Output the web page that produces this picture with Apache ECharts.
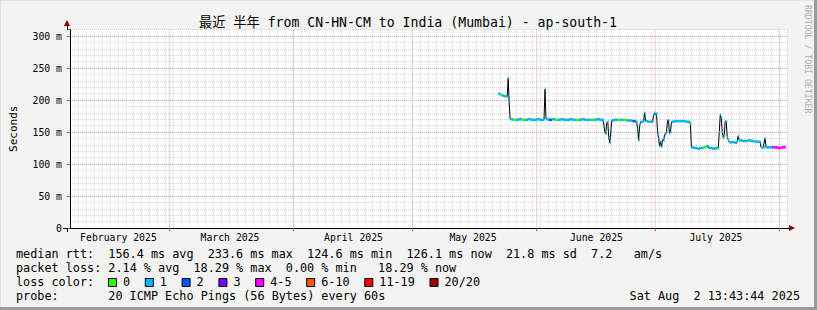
<!DOCTYPE html>
<html><head><meta charset="utf-8">
<script src="https://cdn.jsdelivr.net/npm/echarts@6/dist/echarts.min.js"></script>
<style>html,body{margin:0;padding:0;background:#f3f3f3}#c{width:817px;height:310px}</style>
</head><body><div id="c"></div>
<script>
// ---------- data ----------
const titleText = '最近 半年 from CN-HN-CM to India (Mumbai) - ap-south-1';
const yAxisName = 'Seconds';
const xStart = '2025-02-04 00:00';
const xEnd = '2025-08-03 00:00';
const monthStarts = ['2025-02-01 00:00','2025-03-01 00:00','2025-04-01 00:00','2025-05-01 00:00','2025-06-01 00:00','2025-07-01 00:00','2025-08-01 00:00'];
const monthLabelTimes = ['2025-02-16 04:00','2025-03-16 04:00','2025-04-16 04:00','2025-05-16 04:00','2025-06-16 04:00','2025-07-16 04:00'];
const monthLabels = ['February 2025','March 2025','April 2025','May 2025','June 2025','July 2025'];
const yMax = 310;
const yMajor = 50;
const yMinor = 10;

const times = [
'2025-05-22 12:00','2025-05-23 00:00','2025-05-23 12:00','2025-05-24 00:00','2025-05-24 12:00','2025-05-24 18:00',
'2025-05-25 00:00','2025-05-25 06:00','2025-05-25 12:00','2025-05-26 06:00','2025-05-27 00:00','2025-05-27 18:00',
'2025-05-28 12:00','2025-05-29 06:00','2025-05-30 00:00','2025-05-30 18:00','2025-05-31 12:00','2025-06-01 06:00',
'2025-06-02 00:00','2025-06-02 18:00','2025-06-03 00:00','2025-06-03 06:00','2025-06-03 12:00','2025-06-04 06:00',
'2025-06-05 00:00','2025-06-05 18:00','2025-06-06 12:00','2025-06-07 06:00','2025-06-08 00:00','2025-06-08 18:00',
'2025-06-09 12:00','2025-06-10 06:00','2025-06-11 00:00','2025-06-11 18:00','2025-06-12 12:00','2025-06-13 06:00',
'2025-06-14 00:00','2025-06-14 18:00','2025-06-15 12:00','2025-06-16 06:00','2025-06-17 00:00','2025-06-17 18:00',
'2025-06-18 00:00','2025-06-18 06:00','2025-06-18 12:00','2025-06-18 18:00','2025-06-19 00:00','2025-06-19 06:00',
'2025-06-19 12:00','2025-06-19 18:00','2025-06-20 00:00','2025-06-20 18:00','2025-06-21 12:00','2025-06-22 06:00',
'2025-06-23 00:00','2025-06-23 18:00','2025-06-24 12:00','2025-06-25 06:00','2025-06-26 00:00','2025-06-26 06:00',
'2025-06-26 12:00','2025-06-26 18:00','2025-06-27 00:00','2025-06-27 06:00','2025-06-27 18:00','2025-06-28 00:00',
'2025-06-28 06:00','2025-06-28 12:00','2025-06-29 06:00','2025-06-30 00:00','2025-06-30 06:00','2025-06-30 12:00',
'2025-06-30 18:00','2025-07-01 00:00','2025-07-01 06:00','2025-07-01 12:00','2025-07-01 18:00','2025-07-02 00:00',
'2025-07-02 06:00','2025-07-02 12:00','2025-07-02 18:00','2025-07-03 00:00','2025-07-03 06:00','2025-07-03 12:00',
'2025-07-03 18:00','2025-07-04 00:00','2025-07-04 06:00','2025-07-04 12:00','2025-07-04 18:00','2025-07-05 00:00',
'2025-07-05 18:00','2025-07-06 12:00','2025-07-07 06:00','2025-07-08 00:00','2025-07-08 18:00','2025-07-09 12:00',
'2025-07-09 18:00','2025-07-10 00:00','2025-07-10 18:00','2025-07-11 12:00','2025-07-12 06:00','2025-07-13 00:00',
'2025-07-13 18:00','2025-07-14 12:00','2025-07-15 06:00','2025-07-16 00:00','2025-07-16 18:00','2025-07-17 00:00',
'2025-07-17 06:00','2025-07-17 12:00','2025-07-17 18:00','2025-07-18 00:00','2025-07-18 06:00','2025-07-18 12:00',
'2025-07-18 18:00','2025-07-19 00:00','2025-07-19 06:00','2025-07-19 12:00','2025-07-20 06:00','2025-07-21 00:00',
'2025-07-21 12:00','2025-07-21 18:00','2025-07-22 00:00','2025-07-22 18:00','2025-07-23 12:00','2025-07-24 06:00',
'2025-07-25 00:00','2025-07-25 18:00','2025-07-26 12:00','2025-07-27 06:00','2025-07-27 12:00','2025-07-28 00:00',
'2025-07-28 12:00','2025-07-28 18:00','2025-07-29 12:00','2025-07-30 06:00','2025-07-31 00:00','2025-07-31 18:00',
'2025-08-01 12:00','2025-08-02 06:00','2025-08-02 12:00'
];
const medianMs = [
210,208,207,206,206,205,
234,197,170,169,169,170,
169,169,170,169,169,170,
169,169,170,217,170,169,
170,169,169,170,169,169,
170,169,169,169,170,169,
169,169,169,170,169,169,
162,150,147,165,166,142,
133,150,168,169,169,169,
169,168,168,167,166,166,
155,137,160,166,166,167,
180,167,166,166,166,176,
180,177,179,150,140,128,
135,127,138,136,145,148,
150,168,168,148,150,166,
167,167,167,167,166,166,
162,126,125,124,125,126,
128,125,124,125,125,150,
177,172,150,141,145,167,
166,142,138,134,134,133,
135,144,137,136,136,137,
136,135,135,134,126,126,
140,126,126,126,126,125,
126,126,126
];
const lossIdx = [
1,0,1,1,1,1,
1,1,1,0,1,1,
0,1,1,1,1,1,
1,1,1,1,1,2,
1,0,1,1,1,1,
1,1,0,1,1,1,
1,0,1,1,1,1,
1,1,1,1,1,1,
1,1,1,1,0,1,
0,1,1,2,1,1,
1,1,1,1,1,1,
1,1,1,1,1,1,
1,1,1,1,1,1,
1,1,1,1,2,1,
1,2,1,1,1,1,
1,1,1,1,1,1,
0,1,1,1,1,0,
1,1,1,1,0,1,
1,1,1,1,1,1,
1,1,0,1,1,1,
1,1,1,1,1,1,
1,1,1,1,1,1,
1,1,1,4,4,4,
4,4,4
];
const lossLabels = ['0','1','2','3','4-5','6-10','11-19','20/20'];
const lossColors = ['#26ff00','#00b8ff','#0059ff','#7e00ff','#ff00ff','#ff5500','#ff0000','#a10000'];

const statRow1 = 'median rtt:  156.4 ms avg  233.6 ms max  124.6 ms min  126.1 ms now  21.8 ms sd  7.2   am/s';
const statRow2 = 'packet loss: 2.14 % avg  18.29 % max  0.00 % min   18.29 % now';
const lossRowLabel = 'loss color:';
const probeRow = 'probe:       20 ICMP Echo Pings (56 Bytes) every 60s';
const stampText = 'Sat Aug  2 13:43:44 2025';
const watermark = 'RRDTOOL / TOBI OETIKER';

// ---------- helpers ----------
function ts(s){const [d,t='00:00']=s.split(' ');const [Y,M,D]=d.split('-').map(Number);const [h,m]=t.split(':').map(Number);return Date.UTC(Y,M-1,D,h,m);}
const tVals = times.map(ts);
const labelTs = monthLabelTimes.map(ts);
const MONO = "'DejaVu Sans Mono', monospace";
const CH = 7.1; // monospace column pitch of legend
const LX = 16;

function rowTexts(str, y){
  const out=[]; const re=/\S+(?: \S+)*/g; let m;
  while((m=re.exec(str))){ out.push({type:'text', x: LX + m.index*CH, y: y,
    style:{text:m[0], font:"11.8px "+MONO, fill:'#000', textVerticalAlign:'middle', textAlign:'left'}, silent:true}); }
  return out;
}

const graphics = [];
// frame
graphics.push({type:'rect', shape:{x:0,y:0,width:817,height:310}, style:{fill:'none', stroke:'#cfcfcf', lineWidth:1}, silent:true, z:-10});
graphics.push({type:'line', shape:{x1:815.5,y1:0,x2:815.5,y2:310}, style:{stroke:'#9a9a9a', lineWidth:3}, silent:true});
graphics.push({type:'line', shape:{x1:0,y1:308.5,x2:817,y2:308.5}, style:{stroke:'#9a9a9a', lineWidth:3}, silent:true});
// axis arrows
graphics.push({type:'polygon', shape:{points:[[64,26],[70,26],[67,20]]}, style:{fill:'#8b0000'}, silent:true, z:10});
graphics.push({type:'polygon', shape:{points:[[789,225],[789,231],[795,228]]}, style:{fill:'#8b0000'}, silent:true, z:10});
graphics.push({type:'line', shape:{x1:787,y1:228.5,x2:790,y2:228.5}, style:{stroke:'#000', lineWidth:1}, silent:true, z:10});
graphics.push({type:'line', shape:{x1:63,y1:228.5,x2:67,y2:228.5}, style:{stroke:'#000', lineWidth:1}, silent:true, z:10});
graphics.push({type:'line', shape:{x1:67.5,y1:228,x2:67.5,y2:232}, style:{stroke:'#000', lineWidth:1}, silent:true, z:10});
graphics.push({type:'line', shape:{x1:67.5,y1:26,x2:67.5,y2:30}, style:{stroke:'#000', lineWidth:1}, silent:true, z:10});
// title
graphics.push({type:'text', x:408, y:22, style:{text:titleText, font:"13.2px 'DejaVu Sans Mono','Noto Sans CJK SC',monospace", fill:'#000', textAlign:'center', textVerticalAlign:'middle'}, silent:true});
// watermark
graphics.push({type:'text', x:808, y:5, rotation:-Math.PI/2, style:{text:watermark, font:"8.2px "+MONO, fill:'#b0b0b0', textAlign:'left', textVerticalAlign:'middle'}, silent:true});
// stats rows
rowTexts(statRow1, 254).forEach(g=>graphics.push(g));
rowTexts(statRow2, 268).forEach(g=>graphics.push(g));
rowTexts(lossRowLabel, 282).forEach(g=>graphics.push(g));
rowTexts(probeRow, 296).forEach(g=>graphics.push(g));
graphics.push({type:'text', x:800, y:296, style:{text:stampText, font:"11.8px "+MONO, fill:'#000', textAlign:'right', textVerticalAlign:'middle'}, silent:true});
// loss colour legend
let lx = 123;
lossLabels.forEach((lab,i)=>{
  graphics.push({type:'rect', shape:{x:lx-15+0.5, y:278.5, width:8, height:8}, style:{fill:lossColors[i], stroke:'#000', lineWidth:1}, silent:true});
  graphics.push({type:'text', x:lx, y:282, style:{text:lab, font:"11.8px "+MONO, fill:'#000', textAlign:'left', textVerticalAlign:'middle'}, silent:true});
  lx += lab.length*CH + 29.7;
});

const chart = echarts.init(document.getElementById('c'), null, {renderer:'svg', width:817, height:310});
const xMin = ts(xStart), xMax = ts(xEnd);
const RED = '#eaa6a6', GRAY = '#d6d6d6';
chart.setOption({
  backgroundColor:'#f3f3f3',
  animation:false,
  grid:{left:67, right:30, top:29.6, bottom:82, show:true, backgroundColor:'#ffffff', borderWidth:0, z:0},
  xAxis:[
    {type:'value', min:xMin, max:xMax, position:'bottom', z:2,
     axisLine:{show:true, lineStyle:{color:'#000', width:1}},
     axisTick:{show:true, customValues: monthStarts.map(ts), length:3, lineStyle:{color:'#d04040'}},
     axisLabel:{show:true, customValues: labelTs, margin:4, color:'#000', fontFamily:MONO, fontSize:9.8,
       formatter:(v)=>{const i=labelTs.indexOf(v); return i>=0?monthLabels[i]:'';}},
     splitLine:{show:true, lineStyle:{color:RED, type:[1,1], width:1}}},
    {type:'value', min:xMin, max:xMax, position:'top', z:1, interval:2*86400000,
     axisLine:{show:false}, axisTick:{show:false}, axisLabel:{show:false},
     splitLine:{show:true, lineStyle:{color:GRAY, type:[1,1], width:1}}}
  ],
  yAxis:[
    {type:'value', min:0, max:yMax, interval:yMajor, position:'left', z:2,
     name:yAxisName, nameLocation:'middle', nameGap:51, nameRotate:90,
     nameTextStyle:{fontFamily:MONO, fontSize:11, color:'#000'},
     axisLine:{show:true, lineStyle:{color:'#000', width:1}},
     axisTick:{show:true, length:3, lineStyle:{color:'#d04040'}},
     axisLabel:{margin:8, color:'#000', fontFamily:MONO, fontSize:9.8,
       formatter:(v)=> v % yMajor ? '' : (v===0 ? '0' : v + ' m')},
     splitLine:{show:true, showMaxLine:false, lineStyle:{color:RED, type:[1,1], width:1}}},
    {type:'value', min:0, max:yMax, interval:yMinor, position:'right', z:1,
     axisLine:{show:false}, axisTick:{show:false}, axisLabel:{show:false},
     splitLine:{show:true, lineStyle:{color:GRAY, type:[1,1], width:1}}}
  ],
  graphic: graphics,
  series:[
    {type:'line', xAxisIndex:0, yAxisIndex:0, z:3, symbol:'none', silent:true,
     data: tVals.map((t,i)=>[t, medianMs[i]]),
     lineStyle:{color:'#000', width:1}},
    {type:'custom', xAxisIndex:0, yAxisIndex:0, z:4, silent:true,
     data: tVals.map((t,i)=>[t, medianMs[i], lossIdx[i]]),
     renderItem:(params, api)=>{
       const i = params.dataIndex;
       const t = api.value(0), v = api.value(1);
       const tn = i+1 < tVals.length ? tVals[i+1] : t + 6*3600000;
       const p = api.coord([t, v]); const pn = api.coord([tn, v]);
       return {type:'rect', shape:{x:p[0], y:p[1]-1.25, width:Math.max(1, pn[0]-p[0]), height:2.5},
               style:{fill: lossColors[api.value(2)]}};
     }}
  ]
});
</script></body></html>
